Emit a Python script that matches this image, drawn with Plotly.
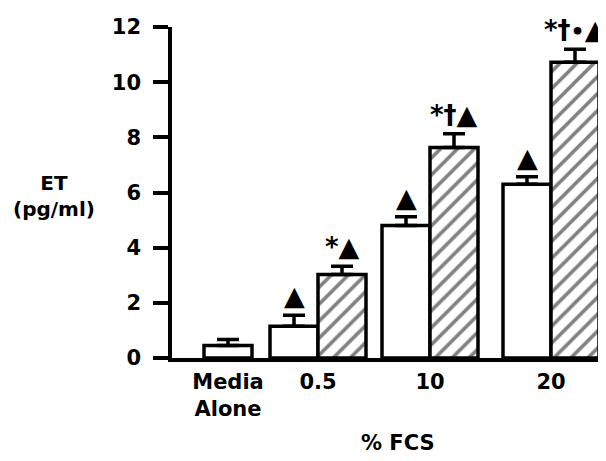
import plotly.graph_objects as go

# ---- data ----
categories = ["Media<br>Alone", "0.5", "10", "20"]
open_vals = [0.45, 1.15, 4.8, 6.3]
open_err = [0.22, 0.4, 0.32, 0.27]
hatched_vals = [None, 3.03, 7.63, 10.72]
hatched_err = [None, 0.3, 0.5, 0.47]
open_marks = ["", "▲", "▲", "▲"]
hatched_marks = ["", "*▲", "*†▲", "*†•▲"]
y_ticks = [0, 2, 4, 6, 8, 10, 12]

# ---- layout constants ----
group_x = [0.0, 0.9, 2.02, 3.23]
bw = 0.48
FONT = "DejaVu Sans, sans-serif"
W = "bold"

open_x = [gx if hatched_vals[i] is None else gx - bw / 2 for i, gx in enumerate(group_x)]
hatch_x = [gx + bw / 2 for gx in group_x]

fig = go.Figure()
fig.add_trace(go.Bar(
    x=open_x, y=open_vals, width=bw, name="open",
    marker=dict(color="white", line=dict(color="black", width=3.5)),
    error_y=dict(type="data", symmetric=False, array=open_err,
                 arrayminus=[0] * len(open_err), color="black", thickness=3.5, width=11),
))
fig.add_trace(go.Bar(
    x=hatch_x, y=hatched_vals, width=bw, name="hatched",
    marker=dict(color="white", line=dict(color="black", width=3.5),
                pattern=dict(shape="/", fgcolor="black", bgcolor="white", size=12, solidity=0.3)),
    error_y=dict(type="data", symmetric=False, array=[e if e is not None else 0 for e in hatched_err],
                 arrayminus=[0] * len(hatched_err), color="black", thickness=3.5, width=11),
))


def mark_text(s):
    out = []
    for ch in s:
        if ch == "▲":
            out.append('<span style="font-size:27px">▲</span>')
        elif ch == "*":
            out.append('<span style="font-size:26px">*</span>')
        elif ch == "†":
            out.append('<span style="font-size:26px">†</span>')
        elif ch == "•":
            out.append('<span style="font-size:22px">•</span>')
    return "".join(out)


annotations = []
for xs, vals, errs, marks in [(open_x, open_vals, open_err, open_marks),
                              (hatch_x, hatched_vals, hatched_err, hatched_marks)]:
    for x, v, e, m in zip(xs, vals, errs, marks):
        if v is None or not m:
            continue
        annotations.append(dict(x=x, y=v + e, xref="x", yref="y", text=mark_text(m),
                                showarrow=False, xanchor="center", yanchor="bottom", yshift=2,
                                font=dict(family="DejaVu Sans", size=22, color="black", weight=W)))

annotations.append(dict(x=-0.272, y=0.49, xref="paper", yref="paper",
                        text="ET<br>(pg/ml)", showarrow=False,
                        xanchor="center", yanchor="middle",
                        font=dict(family=FONT, size=20, color="black", weight=W)))
annotations.append(dict(x=0.521, y=-0.257, xref="paper", yref="paper",
                        text="% FCS", showarrow=False,
                        xanchor="center", yanchor="middle",
                        font=dict(family=FONT, size=21, color="black", weight=W)))

# page body has an 8px default offset; figure sized so the plot area lands at 172..606 x 27..358
fig.update_layout(
    width=598, height=453,
    margin=dict(l=164, r=0, t=19, b=103),
    paper_bgcolor="white", plot_bgcolor="white",
    showlegend=False, barmode="overlay",
    font=dict(family=FONT, size=21, color="black"),
    annotations=annotations,
    xaxis=dict(range=[-0.56, 3.78], tickvals=group_x, ticktext=categories,
               showline=True, linecolor="black", linewidth=3.5, ticks="",
               showgrid=False, zeroline=False, ticklabelstandoff=2,
               tickfont=dict(family=FONT, size=21, color="black", weight=W)),
    yaxis=dict(range=[0, 12], tickvals=y_ticks, showline=True, linecolor="black",
               linewidth=3.5, ticks="outside", ticklen=15, tickwidth=3.5, tickcolor="black",
               showgrid=False, zeroline=False, ticklabelstandoff=8,
               tickfont=dict(family=FONT, size=21, color="black", weight=W)),
)

fig.write_html("out.html")
